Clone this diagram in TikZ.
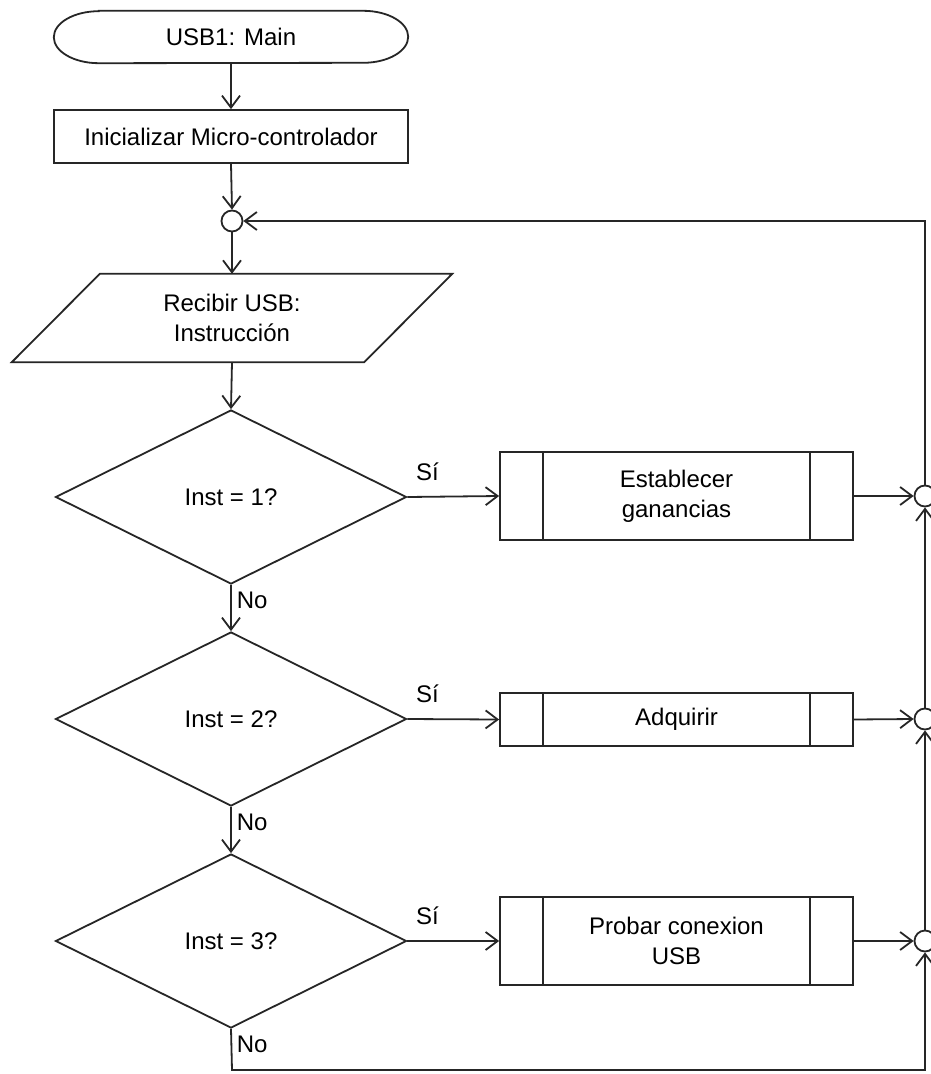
\documentclass[tikz,border=0pt]{standalone}
\usepackage{fontspec}
\setmainfont{Liberation Sans}
\usetikzlibrary{shapes.geometric,arrows.meta,calc}
\tikzset{
  ln/.style={line width=1.8pt, draw=black!85},
  arr/.style={ln, -{Straight Barb[length=12pt,width=18pt]}},
  txt/.style={font=\fontsize{24}{30}\selectfont, align=center, inner sep=0pt},
  box/.style={txt, ln, draw, rectangle},
  dec/.style={txt, ln, draw, diamond, minimum width=351pt, minimum height=174pt},
  junc/.style={ln, draw, circle, fill=white, minimum size=21pt, inner sep=0pt},
  lbl/.style={font=\fontsize{24}{30}\selectfont, inner sep=0pt},
}
\begin{document}
\begin{tikzpicture}[x=1pt,y=1pt]
\fill[white] (0,0) rectangle (930,-1074);
\useasboundingbox (0,0) rectangle (930,-1074);

% terminal
\node[txt, minimum width=354pt, minimum height=52pt] (start) at (231,-37) {USB1: Main};
\draw[ln] ([xshift=45pt]start.north west) -- ([xshift=-45pt]start.north east)
  arc[start angle=90, end angle=-90, x radius=45pt, y radius=26pt]
  -- ([xshift=45pt]start.south west)
  arc[start angle=270, end angle=90, x radius=45pt, y radius=26pt] -- cycle;

\node[box, minimum width=354pt, minimum height=53pt] (init) at (231,-136.5) {Inicializar Micro-controlador};

\node[junc] (j0) at (232,-221) {};

% parallelogram
\node[txt, minimum width=440pt, minimum height=88pt] (par) at (232,-318) {Recibir USB:\\Instrucción};
\draw[ln] ([xshift=88pt]par.north west) -- (par.north east)
  -- ([xshift=-88pt]par.south east) -- (par.south west) -- cycle;

% decisions
\node[dec] (d1) at (231,-497) {Inst = 1?};
\node[dec] (d2) at (231,-719) {Inst = 2?};
\node[dec] (d3) at (231,-941) {Inst = 3?};

% subroutines
\node[box, minimum width=353pt, minimum height=88pt] (s1) at (676.5,-496) {Establecer\\ganancias};
\node[box, minimum width=353pt, minimum height=53pt] (s2) at (676.5,-719.5) {Adquirir};
\node[box, minimum width=353pt, minimum height=88pt] (s3) at (676.5,-941) {Probar conexion\\USB};
\foreach \s in {s1,s2,s3}{
  \draw[ln] ([xshift=44pt]\s.north west) -- ([xshift=44pt]\s.south west);
  \draw[ln] ([xshift=-44pt]\s.north east) -- ([xshift=-44pt]\s.south east);
}

% right junctions
\node[junc] (j1) at (925,-496) {};
\node[junc] (j2) at (925,-719) {};
\node[junc] (j3) at (925,-941) {};

\coordinate (bl) at (232,-1070);

% connectors
\draw[arr] (start.south) -- (init.north);
\draw[arr] (init.south) -- (j0.north);
\draw[arr] (j0.south) -- (par.north);
\draw[arr] (par.south) -- (d1.north);
\draw[arr] (d1.south) -- node[lbl, pos=0, anchor=north west, xshift=5pt, yshift=-6pt] {No} (d2.north);
\draw[arr] (d2.south) -- node[lbl, pos=0, anchor=north west, xshift=5pt, yshift=-6pt] {No} (d3.north);
\draw[arr] (d3.south) -- node[lbl, pos=0, anchor=north west, xshift=5pt, yshift=-6pt] {No} (bl) -| (j3.south);

\draw[arr] (d1.east) -- node[lbl, pos=0.22, anchor=south, yshift=15pt] {Sí} (s1.west);
\draw[arr] (d2.east) -- node[lbl, pos=0.22, anchor=south, yshift=15pt] {Sí} (s2.west);
\draw[arr] (d3.east) -- node[lbl, pos=0.22, anchor=south, yshift=15pt] {Sí} (s3.west);

\draw[arr] (s1.east) -- (j1.west);
\draw[arr] (s2.east) -- (j2.west);
\draw[arr] (s3.east) -- (j3.west);

\draw[arr] (j3.north) -- (j2.south);
\draw[arr] (j2.north) -- (j1.south);
\draw[arr] (j1.north) |- (j0.east);
\end{tikzpicture}
\end{document}
